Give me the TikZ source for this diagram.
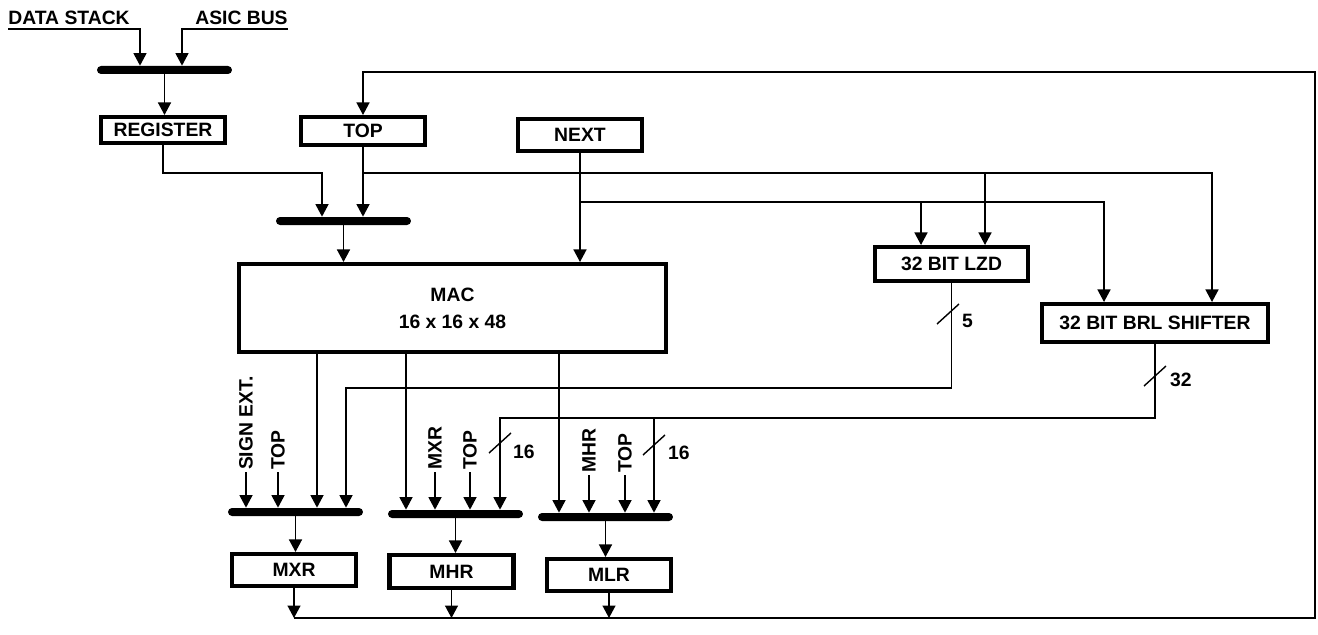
\documentclass[tikz,border=0pt]{standalone}
\usepackage{fontspec}
\setsansfont{Liberation Sans}
\usetikzlibrary{arrows.meta, calc}

\begin{document}
\begin{tikzpicture}[x=0.02cm, y=-0.02cm,
    box/.style={draw, line width=2.3pt, minimum width=2.48cm, minimum height=0.64cm,
                inner sep=0pt, align=center,
                font=\sffamily\bfseries\fontsize{11}{15.5}\selectfont},
    bus/.style={fill=black, rounded corners=0.08cm, minimum width=2.7cm,
                minimum height=0.16cm, inner sep=0pt},
    arw/.style={-{Triangle[length=0.25cm, width=0.26cm]}, line width=0.8pt},
    ln/.style={line width=0.8pt},
    lbl/.style={font=\sffamily\bfseries\fontsize{11}{13}\selectfont, inner sep=1pt},
]
\useasboundingbox (0,0) rectangle (1318,635);

\node[lbl, anchor=south west, inner xsep=0pt, inner ysep=2.5pt] (ds) at (8,29) {DATA STACK};
\node[lbl, anchor=south east, inner xsep=0pt, inner ysep=2.5pt] (ab) at (288,29) {ASIC BUS};
\node[bus] (bin) at (164.5,70) {};

\node[box, minimum height=0.52cm] (reg) at (163,130) {REGISTER};
\node[box, minimum height=0.56cm] (top) at (363,131) {TOP};
\node[box] (nxt) at (580,135) {NEXT};
\node[bus] (bsel) at (343.5,221) {};
\node[box, minimum width=8.54cm, minimum height=1.76cm] (mac) at (452.5,308) {MAC\\16 x 16 x 48};
\node[box, minimum width=3.06cm, minimum height=0.68cm] (lzd) at (951.5,264) {32 BIT LZD};
\node[box, minimum width=4.52cm, minimum height=0.76cm] (brl) at (1155,323) {32 BIT BRL SHIFTER};

\node[bus] (bxr) at (295.5,512) {};
\node[bus] (bhr) at (455.5,514) {};
\node[bus] (blr) at (605.5,517) {};
\node[box] (mxr) at (294,570) {MXR};
\node[box, minimum height=0.66cm] (mhr) at (451.5,571.5) {MHR};
\node[box] (mlr) at (609,575) {MLR};

\node[lbl, rotate=90, anchor=west] (sgn) at (246,472) {SIGN EXT.};
\node[lbl, rotate=90, anchor=west] (tx) at (278,472) {TOP};
\node[lbl, rotate=90, anchor=west] (mh) at (435,472) {MXR};
\node[lbl, rotate=90, anchor=west] (th) at (470,472) {TOP};
\node[lbl, rotate=90, anchor=west] (ml) at (589,475) {MHR};
\node[lbl, rotate=90, anchor=west] (tl) at (625,475) {TOP};

\node[lbl, anchor=west] (w5) at (960,321) {5};
\node[lbl, anchor=west] (w32) at (1168,380) {32};
\node[lbl, anchor=west] (w16a) at (511,452) {16};
\node[lbl, anchor=west] (w16b) at (666,453) {16};

\coordinate (dsk) at (140,29);
\coordinate (abk) at (182,29);
\coordinate (rk) at (322,173);
\coordinate (ta) at (363,173);
\coordinate (tz) at (985,173);
\coordinate (ts) at (1212,173);
\coordinate (na) at (580,202);
\coordinate (nz) at (921,202);
\coordinate (ns) at (1104,202);
\coordinate (c1) at (317,0);
\coordinate (c2) at (406,0);
\coordinate (c3) at (559,0);
\coordinate (lk) at (346,388);
\coordinate (bk) at (500,418);
\coordinate (bj) at (654,418);
\coordinate (bl) at (294,618);
\coordinate (br) at (1315,618);
\coordinate (tr) at (1315,72);

\draw[arw] (ds.south west) -- (dsk) -- (dsk |- bin.north);
\draw[arw] (ab.south east) -- (abk) -- (abk |- bin.north);
\draw[arw] (bin.south) -- (bin.south |- reg.north);

\draw[arw] (reg.south) |- (rk) -- (rk |- bsel.north);
\draw[arw] (top.south) -- (top.south |- bsel.north);
\draw[arw] (bsel.south) -- (bsel.south |- mac.north);
\draw[arw] (nxt.south) -- (nxt.south |- mac.north);

\draw[arw] (ta) -- (ts) -- (ts |- brl.north);
\draw[arw] (tz) -- (tz |- lzd.north);
\draw[arw] (na) -- (ns) -- (ns |- brl.north);
\draw[arw] (nz) -- (nz |- lzd.north);

\foreach \c/\b in {c1/bxr, c2/bhr, c3/blr}
    \draw[arw] (mac.south -| \c) -- (\c |- \b.north);

\draw[arw] (lzd.south) |- (lk) -- (lk |- bxr.north);
\draw[arw] (brl.south) |- (bk) -- (bk |- bhr.north);
\draw[arw] (bj) -- (bj |- blr.north);

\foreach \l/\b in {sgn/bxr, tx/bxr, mh/bhr, th/bhr, ml/blr, tl/blr}
    \draw[arw] (\l.west) -- (\l.west |- \b.north);

\foreach \sx/\sy in {948/314, 1155/376, 500/443, 654/445}
    \draw[ln] (\sx-11,\sy+10) -- (\sx+11,\sy-10);

\foreach \b/\n in {bxr/mxr, bhr/mhr, blr/mlr}
    \draw[arw] (\b.south) -- (\b.south |- \n.north);
\foreach \n in {mxr, mhr, mlr}
    \draw[arw] (\n.south) -- (\n.south |- bl);
\draw[arw] (bl) -- (br) -- (tr) -| (top.north);
\end{tikzpicture}
\end{document}
